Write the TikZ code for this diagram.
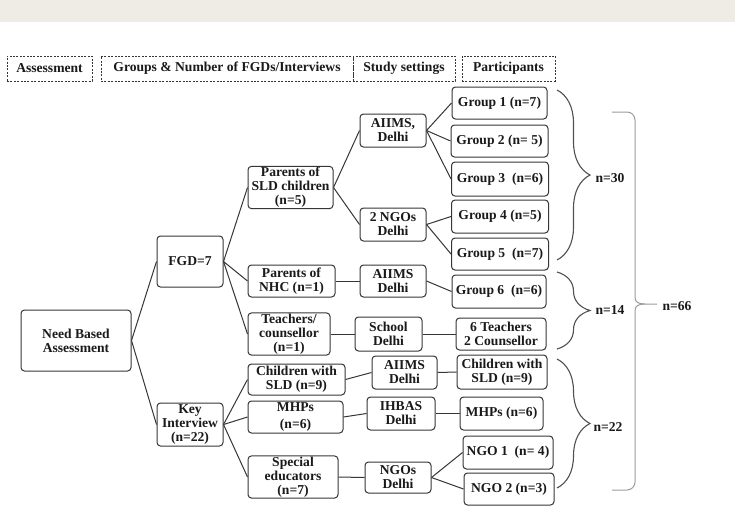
\documentclass[tikz,border=0pt]{standalone}
\usepackage{fontspec}
\setmainfont{Liberation Serif}
\usetikzlibrary{decorations.pathreplacing}
\definecolor{band}{HTML}{EFECE6}
\definecolor{ink}{HTML}{1A1A1A}
\definecolor{edge}{HTML}{363636}
\definecolor{bracedark}{HTML}{505050}
\definecolor{bracelight}{HTML}{9C9C9C}

\begin{document}
\begin{tikzpicture}[x=1pt, y=-1pt,
    box/.style={draw=edge, line width=1pt, rounded corners=3.5pt, align=center, text=ink,
      font=\fontsize{13.6}{13.9}\selectfont\bfseries, inner sep=1pt},
    head/.style={box, rounded corners=0pt, dash pattern=on 2pt off 1.4pt},
    wh/.style 2 args={minimum width=#1, minimum height=#2},
    link/.style={draw=edge, line width=1pt},
    curly/.style={decorate, decoration={brace, amplitude=33pt}, draw=bracedark, line width=1.1pt},
    total/.style={text=ink, font=\fontsize{13.6}{13.9}\selectfont\bfseries, inner sep=0pt}]
    \fill[white] (0,0) rectangle (735,506);
    \fill[band] (0,0) rectangle (735,22);
    \useasboundingbox (0,0) rectangle (735,506);
    % column headers
    \node[head, wh={85pt}{25pt}] (hass) at (49.5,68.5) {Assessment};
    \node[head, wh={252pt}{25pt}] (hgrp) at (227,68.5) {Groups \& Number of FGDs/Interviews};
    \node[head, wh={102pt}{25pt}] (hset) at (404,68.5) {Study settings};
    \node[head, wh={93pt}{25pt}] (hpart) at (508.5,68.5) {Participants};
    % assessment and groups
    \node[box, wh={110pt}{61pt}] (nba) at (76,340.5) {Need Based\\Assessment};
    \node[box, wh={66pt}{51pt}] (fgd) at (190,261.5) {FGD=7};
    \node[box, wh={66pt}{43pt}] (key) at (190,424.5) {Key\\Interview\\(n=22)};
    \node[box, wh={85pt}{41pt}] (psld) at (290.5,187.5) {Parents of\\SLD children\\(n=5)};
    \node[box, wh={87pt}{32pt}] (pnhc) at (291.5,281) {Parents of\\NHC (n=1)};
    \node[box, wh={82pt}{40pt}] (teach) at (289,334) {Teachers/\\counsellor\\(n=1)};
    \node[box, wh={97pt}{31pt}] (csld) at (296.5,379.5) {Children with\\SLD (n=9)};
    \node[box, wh={95pt}{32pt}] (mhp) at (295.5,417) {MHPs\\[4pt](n=6)};
    \node[box, wh={90pt}{40pt}] (spec) at (293,477) {Special\\educators\\(n=7)};
    % study settings
    \node[box, wh={66pt}{33pt}] (aiimsa) at (393,130.5) {AIIMS,\\Delhi};
    \node[box, wh={66pt}{33pt}] (ngoa) at (393,224.5) {2 NGOs\\Delhi};
    \node[box, wh={66pt}{32pt}] (aiimsn) at (393,281) {AIIMS\\Delhi};
    \node[box, wh={67pt}{34pt}] (school) at (388.5,334) {School\\Delhi};
    \node[box, wh={65pt}{33pt}] (aiimsb) at (404.5,372.5) {AIIMS\\Delhi};
    \node[box, wh={68pt}{33pt}] (ihbas) at (401,413.5) {IHBAS\\Delhi};
    \node[box, wh={66pt}{31pt}] (ngob) at (398,477.5) {NGOs\\Delhi};
    % participants
    \node[box, wh={95pt}{32pt}] (g1) at (499.5,103) {Group 1 (n=7)};
    \node[box, wh={97pt}{32pt}] (g2) at (499.5,141) {Group 2 (n= 5)};
    \node[box, wh={97pt}{34pt}] (g3) at (500,179) {Group 3~ (n=6)};
    \node[box, wh={97pt}{33pt}] (g4) at (500,216.5) {Group 4 (n=5)};
    \node[box, wh={97pt}{32pt}] (g5) at (500,254) {Group 5~ (n=7)};
    \node[box, wh={94pt}{33pt}] (g6) at (499,291.5) {Group 6~ (n=6)};
    \node[box, wh={90pt}{32pt}] (tc) at (501,334) {6 Teachers\\2 Counsellor};
    \node[box, wh={90pt}{34pt}] (csldp) at (502,372) {Children with\\SLD (n=9)};
    \node[box, wh={83pt}{33pt}] (mhpp) at (501.5,413.5) {MHPs (n=6)};
    \node[box, wh={90pt}{33pt}] (ngo1) at (508,452.5) {NGO 1~ (n= 4)};
    \node[box, wh={90pt}{32pt}] (ngo2) at (509,489) {NGO 2 (n=3)};
    % links
    \foreach \a/\b in {nba/fgd, nba/key, fgd/psld, fgd/pnhc, fgd/teach, key/csld, key/mhp, key/spec,
        psld/aiimsa, psld/ngoa, aiimsa/g1, aiimsa/g2, aiimsa/g3, ngoa/g4, ngoa/g5,
        pnhc/aiimsn, aiimsn/g6, teach/school, school/tc, csld/aiimsb, aiimsb/csldp,
        mhp/ihbas, ihbas/mhpp, spec/ngob, ngob/ngo1, ngob/ngo2}
      \draw[link] (\a.east) -- (\b.west);
    % braces and totals
    \draw[curly] (557,90) -- (557,260);
    \draw[curly] (557,272) -- (557,349);
    \draw[curly] (557,359) -- (557,488);
    \draw[bracelight, line width=1pt] (612,112) -- (627,112) to[out=0, in=90] (635,120) -- (635,297)
      .. controls (635,302) and (638,304) .. (645,304) -- (657,304);
    \draw[bracelight, line width=1pt] (612,490) -- (627,490) to[out=0, in=-90] (635,482) -- (635,311)
      .. controls (635,306) and (638,304) .. (645,304);
    \node[total] (n30) at (610,178) {n=30};
    \node[total] (n14) at (610,310) {n=14};
    \node[total] (n22) at (608,427) {n=22};
    \node[total] (n66) at (677,306) {n=66};
  \end{tikzpicture}
\end{document}
